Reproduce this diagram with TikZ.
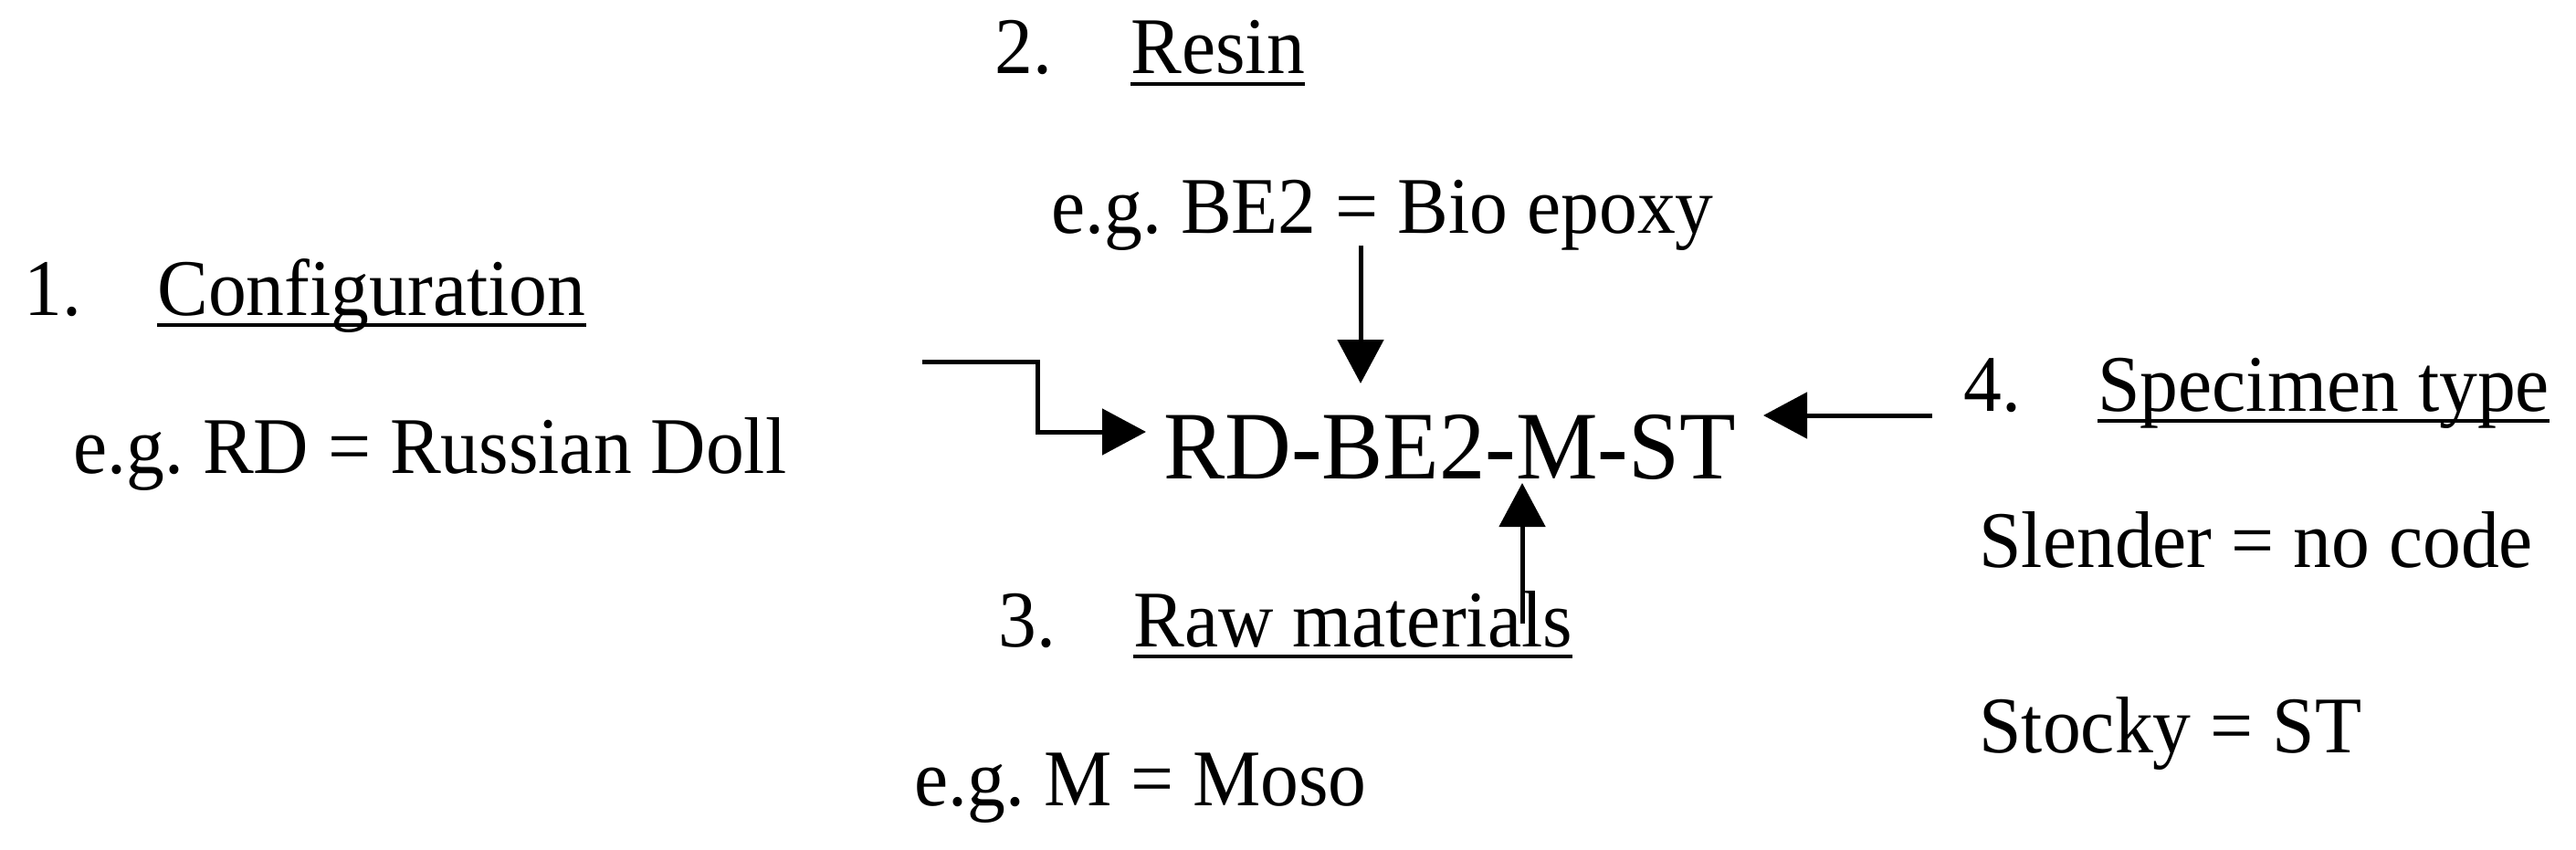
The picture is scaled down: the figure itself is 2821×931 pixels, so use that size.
\documentclass[tikz,border=0pt]{standalone}
\usepackage{fontspec}
\setmainfont{Liberation Serif}[FakeStretch=0.95]
\usetikzlibrary{arrows.meta}
\frenchspacing
\tikzset{
  txt/.style={inner sep=0pt, anchor=base west, font=\fontsize{44}{52}\selectfont},
  code/.style={inner sep=0pt, anchor=base west, font=\fontsize{53}{60}\selectfont},
  uline/.style={line width=2pt},
  arr/.style={line width=2.5pt, -{Triangle[length=24pt,width=25pt]}},
}
\newcommand{\ul}[1]{\draw[uline] ([yshift=-5.5pt]#1.base west) -- ([yshift=-5.5pt]#1.base east);}
\begin{document}
\begin{tikzpicture}[x=0.5pt,y=-0.5pt]
\fill[white] (0,0) rectangle (2821,931);
\useasboundingbox (0,0) rectangle (2821,931);
% 1. Configuration
\node[txt] (n1) at (26,345) {1.};
\node[txt] (cfg) at (172,345) {Configuration};
\ul{cfg}
\node[txt] (ex1) at (80,518) {e.g. RD = Russian Doll};
% 2. Resin
\node[txt] (n2) at (1089,81) {2.};
\node[txt] (resin) at (1238,81) {Resin};
\ul{resin}
\node[txt] (ex2) at (1151,255) {e.g. BE2 = Bio epoxy};
% 3. Raw materials
\node[txt] (n3) at (1093,708) {3.};
\node[txt] (raw) at (1241,708) {Raw materials};
\ul{raw}
\node[txt] (ex3) at (1001,882) {e.g. M = Moso};
% 4. Specimen type
\node[txt] (n4) at (2150,450) {4.};
\node[txt] (spec) at (2297,450) {Specimen type};
\ul{spec}
\node[txt] (ex4a) at (2167,621) {Slender = no code};
\node[txt] (ex4b) at (2167,824) {Stocky = ST};
% code
\node[code] (code) at (1274,524) {RD-BE2-M-ST};
% connectors
\coordinate (cfgA) at (1010,396);
\coordinate (cfgB) at (1136,473);
\coordinate (cfgTip) at (1255,473);
\draw[arr] (cfgA) -| (cfgB) -- (cfgTip);
\coordinate (resTop) at (1490,269);
\coordinate (resTip) at (1490,420);
\draw[arr] (resTop) -- (resTip);
\coordinate (rawBot) at (1667,683);
\coordinate (rawTip) at (1667,529);
\draw[arr] (rawBot) -- (rawTip);
\coordinate (specA) at (2116,455);
\coordinate (specTip) at (1931,455);
\draw[arr] (specA) -- (specTip);
\end{tikzpicture}
\end{document}
